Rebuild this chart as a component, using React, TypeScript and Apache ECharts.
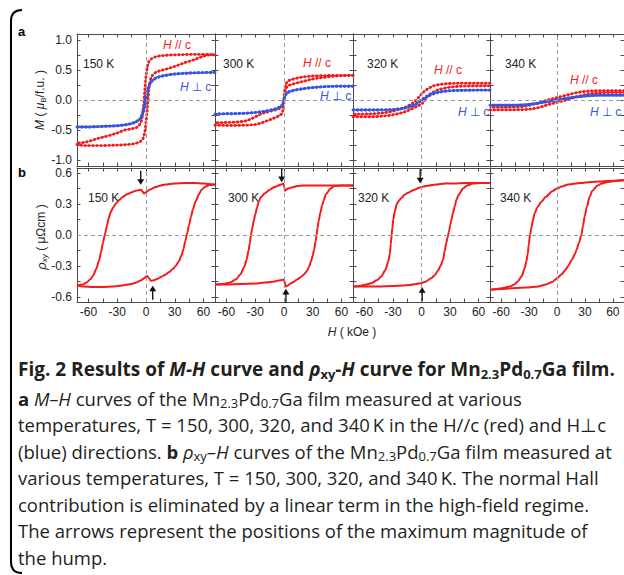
import React, { useEffect, useRef } from "react";
import * as echarts from "echarts";

// ---------- colours ----------
const RED = "#f51a1a";
const BLUE = "#3656e0";
const AXIS = "#4a4a4a";
const TEXT = "#222222";
const CAPTION = "#231f20";

// ---------- axis ranges and ticks ----------
const H_RANGE = [-72, 72];
const M_RANGE = [-1.1, 1.1];
const RHO_RANGE = [-0.65, 0.65];
const hTickValues = [-60, -45, -30, -15, 0, 15, 30, 45, 60];
const hLabelValues = [-60, -30, 0, 30, 60];
const mTickValues = [-1, -0.75, -0.5, -0.25, 0, 0.25, 0.5, 0.75, 1];
const mLabelValues = [-1, -0.5, 0, 0.5, 1];
const rhoTickValues = [-0.6, -0.45, -0.3, -0.15, 0, 0.15, 0.3, 0.45, 0.6];
const rhoLabelValues = [-0.6, -0.3, 0, 0.3, 0.6];

const temperatures = ["150 K", "300 K", "320 K", "340 K"];

// ---------- panel a : M-H (H in kOe, M in muB/f.u.) ----------
const mh150RedDown = [[72,0.75],[65,0.76],[55,0.76],[45,0.76],[35,0.755],[25,0.75],[18,0.74],[12,0.73],[8,0.71],[5,0.68],[3,0.64],[1.5,0.56],[0.5,0.45],[-0.5,0.3],[-1.5,0.12],[-2.5,-0.08],[-3.5,-0.25],[-5,-0.36],[-7,-0.42],[-10,-0.46],[-15,-0.48],[-22,-0.5],[-30,-0.55],[-40,-0.6],[-50,-0.64],[-60,-0.69],[-66,-0.71],[-72,-0.72]];
const mh150RedUp = [[-72,-0.74],[-65,-0.76],[-55,-0.76],[-45,-0.76],[-35,-0.755],[-25,-0.75],[-18,-0.74],[-12,-0.73],[-8,-0.71],[-5,-0.68],[-3,-0.64],[-1.5,-0.56],[-0.5,-0.45],[0.5,-0.3],[1.5,-0.12],[2.5,0.08],[3.5,0.25],[5,0.36],[7,0.42],[10,0.46],[15,0.49],[22,0.52],[30,0.56],[40,0.62],[50,0.67],[58,0.72],[65,0.75],[72,0.76]];
const mh150BlueDown = [[72,0.46],[55,0.455],[40,0.445],[28,0.43],[20,0.41],[14,0.39],[10,0.37],[7,0.34],[5,0.3],[3.5,0.24],[2,0.15],[1,0.06],[0,-0.03],[-1,-0.12],[-2.5,-0.2],[-4,-0.26],[-6,-0.31],[-9,-0.35],[-14,-0.39],[-20,-0.41],[-30,-0.43],[-45,-0.44],[-60,-0.45],[-72,-0.45]];
const mh150BlueUp = [[-72,-0.45],[-60,-0.45],[-45,-0.44],[-30,-0.43],[-20,-0.41],[-14,-0.385],[-10,-0.36],[-7,-0.33],[-5,-0.28],[-3.5,-0.2],[-2,-0.1],[-1,-0.02],[0,0.06],[1,0.14],[2.5,0.22],[4,0.27],[6,0.31],[9,0.35],[14,0.39],[20,0.41],[28,0.43],[40,0.445],[55,0.455],[72,0.46]];

const mh300RedDown = [[72,0.41],[60,0.41],[50,0.41],[40,0.405],[30,0.4],[22,0.39],[15,0.37],[10,0.35],[6,0.33],[3,0.3],[1.5,0.25],[0.5,0.12],[-0.5,-0.03],[-1.5,-0.1],[-3,-0.13],[-6,-0.15],[-10,-0.17],[-15,-0.19],[-20,-0.21],[-25,-0.24],[-30,-0.28],[-35,-0.32],[-40,-0.35],[-50,-0.37],[-60,-0.375],[-72,-0.38]];
const mh300RedUp = [[-72,-0.42],[-60,-0.425],[-50,-0.425],[-40,-0.42],[-30,-0.41],[-25,-0.39],[-20,-0.36],[-15,-0.33],[-10,-0.3],[-6,-0.27],[-3,-0.24],[-1.5,-0.2],[-0.5,-0.1],[0.5,0.06],[1.5,0.17],[3,0.22],[6,0.25],[10,0.27],[15,0.29],[20,0.31],[25,0.33],[30,0.35],[35,0.365],[40,0.375],[50,0.395],[60,0.405],[72,0.41]];
const mh300BlueDown = [[72,0.23],[60,0.23],[45,0.225],[35,0.215],[25,0.2],[18,0.185],[12,0.17],[8,0.155],[5,0.14],[3,0.12],[1.5,0.09],[0.5,0.04],[-0.5,-0.02],[-1.5,-0.07],[-3,-0.1],[-5,-0.12],[-8,-0.14],[-12,-0.16],[-18,-0.18],[-25,-0.2],[-35,-0.215],[-45,-0.225],[-60,-0.23],[-72,-0.235]];
const mh300BlueUp = [[-72,-0.235],[-60,-0.23],[-45,-0.225],[-35,-0.215],[-25,-0.2],[-18,-0.185],[-12,-0.165],[-8,-0.15],[-5,-0.135],[-3,-0.115],[-1.5,-0.08],[-0.5,-0.03],[0.5,0.03],[1.5,0.08],[3,0.11],[5,0.13],[8,0.15],[12,0.165],[18,0.18],[25,0.2],[35,0.215],[45,0.225],[60,0.23],[72,0.23]];

const mh320RedDown = [[72,0.28],[55,0.28],[40,0.28],[30,0.275],[22,0.265],[16,0.25],[12,0.235],[8,0.2],[5,0.17],[2,0.13],[0,0.1],[-2,0.06],[-5,0.01],[-8,-0.04],[-12,-0.08],[-17,-0.12],[-23,-0.155],[-30,-0.185],[-38,-0.21],[-50,-0.23],[-60,-0.235],[-72,-0.235]];
const mh320RedUp = [[-72,-0.28],[-50,-0.28],[-35,-0.26],[-25,-0.23],[-18,-0.2],[-12,-0.16],[-8,-0.13],[-4,-0.1],[0,-0.07],[3,-0.02],[5,0.04],[8,0.09],[12,0.13],[19,0.18],[28,0.21],[40,0.23],[55,0.235],[72,0.235]];
const mh320BlueDown = [[72,0.165],[55,0.165],[40,0.16],[30,0.155],[22,0.145],[15,0.125],[10,0.1],[6,0.07],[3,0.04],[0,0.005],[-3,-0.03],[-6,-0.06],[-10,-0.09],[-15,-0.12],[-22,-0.145],[-30,-0.16],[-40,-0.165],[-55,-0.167],[-72,-0.167]];
const mh320BlueUp = [[-72,-0.167],[-55,-0.167],[-40,-0.165],[-30,-0.16],[-22,-0.148],[-15,-0.13],[-10,-0.105],[-6,-0.075],[-3,-0.045],[0,-0.01],[3,0.025],[6,0.055],[10,0.085],[15,0.115],[22,0.14],[30,0.155],[40,0.162],[55,0.165],[72,0.165]];

const mh340RedDown = [[72,0.155],[55,0.155],[45,0.155],[35,0.15],[28,0.14],[22,0.125],[16,0.105],[10,0.08],[5,0.06],[0,0.04],[-5,0.02],[-10,0.0],[-15,-0.025],[-20,-0.05],[-25,-0.07],[-30,-0.09],[-35,-0.105],[-42,-0.115],[-55,-0.12],[-72,-0.12]];
const mh340RedUp = [[-72,-0.165],[-55,-0.165],[-45,-0.165],[-35,-0.16],[-28,-0.15],[-22,-0.135],[-16,-0.11],[-10,-0.08],[-5,-0.06],[0,-0.04],[5,-0.02],[10,0.0],[15,0.025],[20,0.05],[25,0.07],[30,0.09],[35,0.105],[42,0.115],[55,0.125],[72,0.125]];
const mh340BlueDown = [[72,0.08],[55,0.08],[42,0.078],[32,0.07],[22,0.055],[12,0.035],[5,0.018],[0,0.005],[-5,-0.01],[-12,-0.03],[-22,-0.055],[-32,-0.075],[-42,-0.085],[-55,-0.088],[-72,-0.088]];
const mh340BlueUp = [[-72,-0.088],[-55,-0.088],[-42,-0.085],[-32,-0.077],[-22,-0.06],[-12,-0.035],[-5,-0.018],[0,-0.005],[5,0.01],[12,0.03],[22,0.052],[32,0.068],[42,0.077],[55,0.08],[72,0.08]];

// ---------- panel b : rho_xy - H (H in kOe, rho in micro-ohm cm) ----------
const rho150Down = [[72,0.49],[65,0.495],[60,0.5],[50,0.505],[40,0.505],[30,0.5],[20,0.49],[15,0.48],[10,0.465],[5,0.445],[2,0.43],[0,0.415],[-2,0.402],[-3.5,0.42],[-5,0.44],[-8,0.435],[-12,0.425],[-16,0.41],[-20,0.395],[-24,0.37],[-28,0.34],[-31,0.31],[-34,0.27],[-37,0.22],[-39,0.16],[-41,0.08],[-43,0.0],[-45,-0.08],[-47,-0.17],[-49,-0.25],[-52,-0.33],[-55,-0.39],[-58,-0.43],[-62,-0.46],[-66,-0.48],[-72,-0.49]];
const rho150Up = [[-72,-0.49],[-65,-0.5],[-55,-0.505],[-45,-0.505],[-35,-0.5],[-25,-0.49],[-15,-0.475],[-10,-0.46],[-5,-0.44],[-2,-0.42],[0,-0.405],[1.5,-0.398],[3,-0.42],[5,-0.445],[8,-0.44],[12,-0.425],[16,-0.405],[20,-0.385],[24,-0.36],[28,-0.33],[31,-0.3],[34,-0.26],[37,-0.2],[39,-0.14],[41,-0.06],[43,0.02],[45,0.1],[47,0.18],[49,0.25],[52,0.33],[55,0.39],[58,0.44],[62,0.47],[66,0.485],[72,0.49]];
const rho300Down = [[72,0.48],[60,0.48],[45,0.48],[30,0.48],[20,0.48],[14,0.475],[8,0.46],[4,0.45],[2,0.435],[1,0.43],[0,0.48],[-0.7,0.5],[-3,0.49],[-6,0.48],[-10,0.465],[-15,0.44],[-20,0.405],[-24,0.37],[-26,0.33],[-28,0.27],[-30,0.2],[-31.5,0.14],[-33,0.07],[-34.5,0.0],[-35.6,-0.08],[-37,-0.15],[-39,-0.24],[-41.5,-0.31],[-45.4,-0.38],[-50,-0.43],[-56,-0.46],[-63,-0.475],[-72,-0.48]];
const rho300Up = [[-72,-0.48],[-60,-0.48],[-45,-0.475],[-30,-0.47],[-20,-0.46],[-10,-0.45],[-4,-0.44],[-1,-0.435],[0,-0.43],[1,-0.47],[2,-0.5],[4,-0.49],[7,-0.47],[10,-0.455],[14,-0.43],[18,-0.405],[21,-0.38],[24,-0.35],[26,-0.31],[28,-0.26],[30,-0.2],[31.5,-0.14],[33,-0.06],[34,0.0],[35,0.07],[36.3,0.14],[38,0.22],[40,0.29],[41.5,0.34],[44,0.4],[48.5,0.45],[53,0.475],[60,0.48],[72,0.48]];
const rho320Down = [[72,0.505],[60,0.505],[45,0.505],[35,0.5],[25,0.5],[15,0.49],[8,0.48],[2,0.47],[-2,0.46],[-6,0.445],[-10,0.43],[-14,0.41],[-18,0.39],[-21,0.36],[-24,0.33],[-26,0.3],[-28,0.23],[-29.7,0.15],[-30.6,0.07],[-31.4,0.0],[-32.3,-0.09],[-33.2,-0.18],[-35,-0.26],[-38,-0.34],[-42,-0.4],[-47,-0.44],[-52,-0.465],[-58,-0.48],[-65,-0.495],[-72,-0.5]];
const rho320Up = [[-72,-0.5],[-60,-0.5],[-45,-0.5],[-30,-0.495],[-20,-0.49],[-12,-0.485],[-6,-0.475],[0,-0.465],[5,-0.45],[10,-0.42],[14,-0.39],[17,-0.35],[20,-0.3],[22.7,-0.24],[24.3,-0.16],[26,-0.08],[27.5,-0.02],[29,0.04],[30.3,0.1],[31.5,0.15],[33,0.21],[35,0.28],[36.6,0.34],[39,0.39],[43.6,0.45],[48,0.48],[54,0.5],[62,0.505],[72,0.505]];
const rho340Down = [[72,0.53],[68,0.53],[55,0.525],[45,0.52],[36.6,0.515],[25,0.505],[12,0.49],[5,0.47],[0,0.45],[-5,0.425],[-12,0.37],[-17,0.32],[-21,0.27],[-24,0.21],[-26,0.14],[-27.5,0.07],[-29,0.0],[-30.3,-0.09],[-31.4,-0.18],[-33,-0.26],[-35,-0.33],[-38,-0.4],[-42,-0.45],[-46,-0.48],[-50.6,-0.5],[-58,-0.515],[-65,-0.525],[-72,-0.53]];
const rho340Up = [[-72,-0.53],[-60,-0.525],[-45,-0.515],[-33,-0.51],[-20,-0.5],[-12,-0.48],[-5,-0.455],[0,-0.42],[5,-0.38],[9,-0.34],[12,-0.3],[16,-0.24],[19,-0.19],[21,-0.145],[23.5,-0.08],[26.2,0.0],[28,0.09],[29.7,0.18],[32,0.27],[35,0.37],[38,0.43],[43.6,0.48],[48,0.5],[54,0.515],[62,0.525],[72,0.53]];

// hump arrows (annotation anchors, in data units)
const humpArrowsDown = [[-5.5, 0.555], [-2.4, 0.58], [-1.4, 0.57]];
const humpArrowsUp = [[7, -0.56], [2, -0.59], [0.7, -0.575]];

const mhPanels = [
  { red: [mh150RedDown, mh150RedUp], blue: [mh150BlueDown, mh150BlueUp] },
  { red: [mh300RedDown, mh300RedUp], blue: [mh300BlueDown, mh300BlueUp] },
  { red: [mh320RedDown, mh320RedUp], blue: [mh320BlueDown, mh320BlueUp] },
  { red: [mh340RedDown, mh340RedUp], blue: [mh340BlueDown, mh340BlueUp] },
];
const rhoPanels = [
  [rho150Down, rho150Up],
  [rho300Down, rho300Up],
  [rho320Down, rho320Up],
  [rho340Down, rho340Up],
];

// ---------- layout ----------
const panelLefts = [77, 215, 353, 490];
const panelWidths = [138, 138, 137, 137];
const A_TOP = 34, A_HEIGHT = 132;
const B_TOP = 168, B_HEIGHT = 134;

const SANS = "Liberation Sans, Arial, sans-serif";
const CAP_FONT = "Open Sans, sans-serif";
const TITLE_SIZE = 19;
const BODY_SIZE = 18.5;

const ARROW_PATH = "path://M3.3,0 H4.7 V9 H7.6 L4,15 L0.4,9 H3.3 Z";

function makeX(g: number, pos: string, labels: boolean) {
  return {
    type: "value", gridIndex: g, position: pos,
    min: H_RANGE[0], max: H_RANGE[1],
    axisLine: { show: true, onZero: false, lineStyle: { color: AXIS, width: 1 } },
    axisTick: { show: true, inside: true, length: 3.5, customValues: hTickValues, lineStyle: { color: AXIS } },
    axisLabel: { show: labels, customValues: hLabelValues, fontFamily: SANS, fontSize: 12, color: TEXT, margin: 4 },
    splitLine: { show: false },
  };
}
function makeY(g: number, pos: string, labels: boolean, range: number[], ticks: number[], labs: number[]) {
  return {
    type: "value", gridIndex: g, position: pos,
    min: range[0], max: range[1],
    axisLine: { show: true, onZero: false, lineStyle: { color: AXIS, width: 1 } },
    axisTick: { show: true, inside: true, length: 3.5, customValues: ticks, lineStyle: { color: AXIS } },
    axisLabel: {
      show: labels, customValues: labs, fontFamily: SANS, fontSize: 12, color: TEXT, margin: 5,
      formatter: (v: number) => v.toFixed(1),
    },
    splitLine: { show: false },
  };
}

function buildOption() {
  const grid: any[] = [];
  const xAxis: any[] = [];
  const yAxis: any[] = [];
  const series: any[] = [];

  for (let g = 0; g < 8; g++) {
    const col = g % 4;
    const isA = g < 4;
    grid.push({
      left: panelLefts[col], width: panelWidths[col],
      top: isA ? A_TOP : B_TOP, height: isA ? A_HEIGHT : B_HEIGHT,
    });
    xAxis.push(makeX(g, "bottom", !isA));
    xAxis.push(makeX(g, "top", false));
    if (isA) {
      yAxis.push(makeY(g, "left", col === 0, M_RANGE, mTickValues, mLabelValues));
      yAxis.push(makeY(g, "right", false, M_RANGE, mTickValues, mLabelValues));
    } else {
      yAxis.push(makeY(g, "left", col === 0, RHO_RANGE, rhoTickValues, rhoLabelValues));
      yAxis.push(makeY(g, "right", false, RHO_RANGE, rhoTickValues, rhoLabelValues));
    }
    // dashed zero reference lines
    series.push({
      type: "line", xAxisIndex: 2 * g, yAxisIndex: 2 * g, data: [[0, 0]],
      symbol: "none", lineStyle: { opacity: 0 }, silent: true, z: 1,
      markLine: {
        silent: true, symbol: ["none", "none"], label: { show: false },
        lineStyle: { color: "#999999", type: [4, 3], width: 1 },
        data: [{ xAxis: 0 }, { yAxis: 0 }],
      },
    });
  }

  const dotted = (data: number[][], color: string, g: number) => [
    {
      type: "line", xAxisIndex: 2 * g, yAxisIndex: 2 * g, data,
      symbol: "none", silent: true, z: 3,
      lineStyle: { color, width: 0.9 },
    },
    {
      type: "line", xAxisIndex: 2 * g, yAxisIndex: 2 * g, data,
      symbol: "none", silent: true, z: 3,
      lineStyle: { color, width: 2.9, type: [0.4, 3.6], cap: "round" },
    },
  ];

  mhPanels.forEach((p, i) => {
    p.red.forEach((d) => series.push(...dotted(d, RED, i)));
    p.blue.forEach((d) => series.push(...dotted(d, BLUE, i)));
  });

  rhoPanels.forEach((p, i) => {
    const g = 4 + i;
    p.forEach((d, k) => {
      const s: any = {
        type: "line", xAxisIndex: 2 * g, yAxisIndex: 2 * g, data: d,
        symbol: "none", silent: true, z: 3, smooth: 0.25, smoothMonotone: "x",
        lineStyle: { color: RED, width: 2 },
      };
      if (i < 3) {
        const anchor = k === 0 ? humpArrowsDown[i] : humpArrowsUp[i];
        s.markPoint = {
          silent: true,
          symbol: ARROW_PATH,
          symbolSize: [7, 14],
          symbolRotate: k === 0 ? 0 : 180,
          itemStyle: { color: "#111111" },
          label: { show: false },
          data: [{ coord: anchor }],
        };
      }
      series.push(s);
    });
  });

  // ---------- graphic annotations ----------
  const small = (text: string, x: number, y: number, fill = TEXT) => ({
    type: "text", x, y, silent: true,
    style: {
      text, fill, fontFamily: SANS, fontSize: 12, verticalAlign: "middle", textVerticalAlign: "middle",
      rich: { i: { fontStyle: "italic", fontFamily: SANS, fontSize: 12, fill } },
    },
  });

  const graphic: any[] = [];
  // bracket on the left
  graphic.push({
    type: "figBracket", x: 0, y: 0, silent: true,
    style: { stroke: "#000000", lineWidth: 2, fill: "none" },
  });
  graphic.push({ type: "text", x: 18, y: 31, silent: true,
    style: { text: "a", fill: "#000", fontFamily: SANS, fontSize: 13, fontWeight: "bold", textVerticalAlign: "middle", verticalAlign: "middle" } });
  graphic.push({ type: "text", x: 18, y: 172, silent: true,
    style: { text: "b", fill: "#000", fontFamily: SANS, fontSize: 13, fontWeight: "bold", textVerticalAlign: "middle", verticalAlign: "middle" } });

  const tempA = [[83, 64], [223, 64], [367, 64], [505, 64]];
  const tempB = [[88, 198], [228, 198], [358, 198], [500, 198]];
  const parLab = [[163, 45], [303, 63], [434, 70], [570, 80]];
  const perpLab = [[180, 87], [320, 96], [458, 112], [590, 112]];
  temperatures.forEach((t, i) => {
    graphic.push(small(t, tempA[i][0], tempA[i][1]));
    graphic.push(small(t, tempB[i][0], tempB[i][1]));
    graphic.push(small("{i|H} // c", parLab[i][0], parLab[i][1], RED));
    graphic.push(small("{i|H} \u22a5 c", perpLab[i][0], perpLab[i][1], BLUE));
  });

  // axis titles
  graphic.push({
    type: "text", x: 40, y: 100, rotation: Math.PI / 2, silent: true,
    style: {
      text: "{i|M} ( {i|\u03bc}{s|B}/f.u. )", fill: TEXT, fontFamily: SANS, fontSize: 12,
      align: "center", textAlign: "center", verticalAlign: "middle", textVerticalAlign: "middle",
      rich: {
        i: { fontStyle: "italic", fontFamily: SANS, fontSize: 12, fill: TEXT },
        s: { fontFamily: SANS, fontSize: 8, fill: TEXT, padding: [7, 0, 0, 0] },
      },
    },
  });
  graphic.push({
    type: "text", x: 41, y: 237, rotation: Math.PI / 2, silent: true,
    style: {
      text: "{i|\u03c1}{s|xy} ( \u03bc\u03a9cm )", fill: TEXT, fontFamily: SANS, fontSize: 12,
      align: "center", textAlign: "center", verticalAlign: "middle", textVerticalAlign: "middle",
      rich: {
        i: { fontStyle: "italic", fontFamily: SANS, fontSize: 13, fill: TEXT },
        s: { fontStyle: "italic", fontFamily: SANS, fontSize: 8, fill: TEXT, padding: [7, 0, 0, 0] },
      },
    },
  });
  graphic.push({
    type: "text", x: 352, y: 332, silent: true,
    style: {
      text: "{i|H} ( kOe )", fill: TEXT, fontFamily: SANS, fontSize: 12,
      align: "center", textAlign: "center", verticalAlign: "middle", textVerticalAlign: "middle",
      rich: { i: { fontStyle: "italic", fontFamily: SANS, fontSize: 12, fill: TEXT } },
    },
  });

  // caption
  const capRich = {
    b: { fontFamily: CAP_FONT, fontWeight: "bold", fontSize: TITLE_SIZE, fill: CAPTION },
    bi: { fontFamily: CAP_FONT, fontWeight: "bold", fontStyle: "italic", fontSize: TITLE_SIZE, fill: CAPTION },
    bs: { fontFamily: CAP_FONT, fontWeight: "bold", fontSize: 13, fill: CAPTION, padding: [9, 0, 0, 0] },
    nb: { fontFamily: CAP_FONT, fontWeight: "bold", fontSize: BODY_SIZE, fill: CAPTION },
    ni: { fontFamily: CAP_FONT, fontStyle: "italic", fontSize: BODY_SIZE, fill: CAPTION },
    ns: { fontFamily: CAP_FONT, fontSize: 13, fill: CAPTION, padding: [9, 0, 0, 0] },
  };
  const captionLines = [
    "{b|Fig. 2 Results of }{bi|M-H}{b| curve and }{bi|\u03c1}{bs|xy}{b|-}{bi|H}{b| curve for Mn}{bs|2.3}{b|Pd}{bs|0.7}{b|Ga film.}",
    "{nb|a} {ni|M\u2013H} curves of the Mn{ns|2.3}Pd{ns|0.7}Ga film measured at various",
    "temperatures, T = 150, 300, 320, and 340\u2009K in the H//c (red) and H\u22a5c",
    "(blue) directions. {nb|b} {ni|\u03c1}{ns|xy}\u2013{ni|H} curves of the Mn{ns|2.3}Pd{ns|0.7}Ga film measured at",
    "various temperatures, T = 150, 300, 320, and 340\u2009K. The normal Hall",
    "contribution is eliminated by a linear term in the high-field regime.",
    "The arrows represent the positions of the maximum magnitude of",
    "the hump.",
  ];
  const captionY = [369, 398, 424.5, 451, 477.5, 504, 530.5, 557];
  captionLines.forEach((t, i) => {
    graphic.push({
      type: "text", x: 18, y: captionY[i], silent: true,
      style: {
        text: t, fill: CAPTION, fontFamily: CAP_FONT, fontSize: BODY_SIZE,
        verticalAlign: "middle", textVerticalAlign: "middle",
        rich: capRich,
      },
    });
  });

  return {
    animation: false,
    backgroundColor: "#ffffff",
    grid, xAxis, yAxis, series, graphic,
  };
}

let shapeRegistered = false;
function registerShapes() {
  if (shapeRegistered) return;
  shapeRegistered = true;
  echarts.graphic.registerShape(
    "figBracket",
    echarts.graphic.extendPath("M 22 10 Q 11 10 11 21 L 11 562 Q 11 573 22 573", {})
  );
}

export default function App() {
  const ref = useRef<HTMLDivElement>(null);
  useEffect(() => {
    document.body.style.margin = "0";
    registerShapes();
    if (!ref.current) return;
    const chart = echarts.init(ref.current, undefined, { renderer: "svg" });
    chart.setOption(buildOption() as any);
    return () => chart.dispose();
  }, []);
  return <div ref={ref} style={{ width: 624, height: 575 }} />;
}
